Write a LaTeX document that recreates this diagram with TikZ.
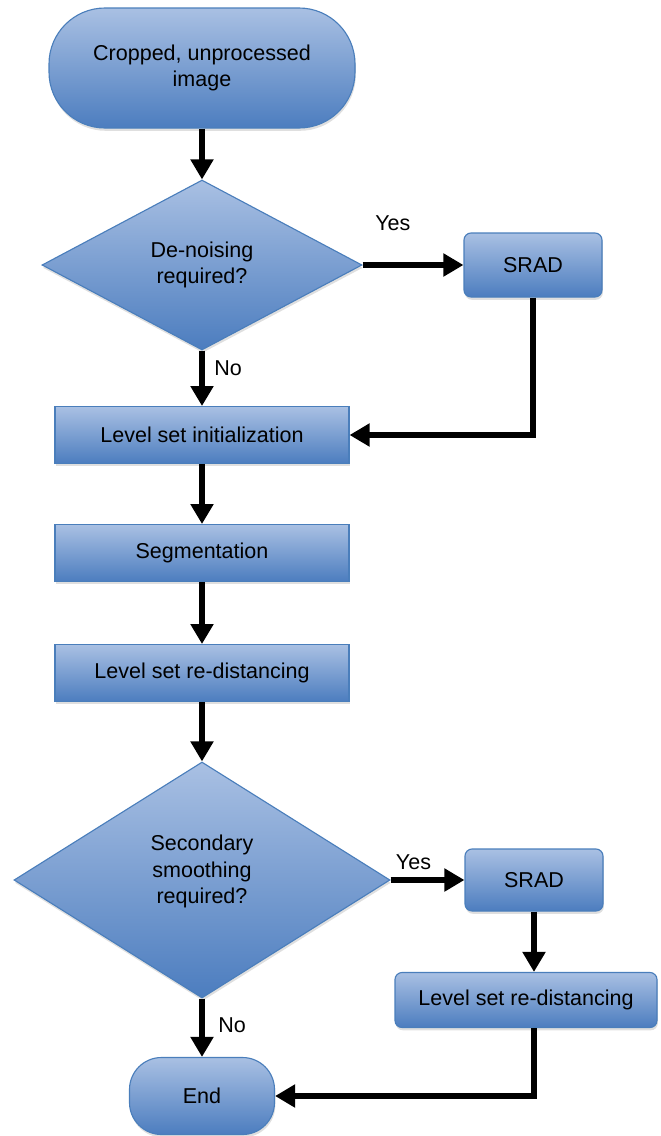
\documentclass[tikz,border=0pt]{standalone}
\usepackage{fontspec}
\setmainfont{Liberation Sans}
\usetikzlibrary{arrows.meta, shapes.geometric, shadows}
\definecolor{cboxtop}{HTML}{A9C0E3}
\definecolor{cboxbot}{HTML}{4C7DBF}
\definecolor{cedge}{HTML}{4A7EBB}
\tikzset{
  every picture/.style={font=\fontsize{15.3}{19}\selectfont},
  box/.style={draw=cedge, line width=0.8pt, top color=cboxtop, bottom color=cboxbot, align=center, inner sep=2pt,
    drop shadow={shadow xshift=0.6pt, shadow yshift=-2pt, opacity=0.25}},
  proc/.style={box, rectangle, minimum width=7.35cm, minimum height=1.42cm},
  side/.style={box, rectangle, rounded corners=5pt},
  terminal/.style={box, rectangle, rounded corners=#1},
  terminal/.default=1.4cm,
  decision/.style={box, diamond, inner sep=0pt},
  arrow/.style={-{Triangle[length=5mm, width=5.5mm]}, draw=black, line width=4.6pt},
  note/.style={font=\fontsize{15.3}{19}\selectfont, inner sep=1pt},
}
\begin{document}
\begin{tikzpicture}
  \useasboundingbox (0,0) rectangle (16.525,-28.4);
  \node[terminal, minimum width=7.65cm, minimum height=3cm] (start) at (5.05,-1.7) {Cropped, unprocessed\\image};
  \node[decision, minimum width=8cm, minimum height=4.25cm] (dec1) at (5.05,-6.625) {De-noising\\required?};
  \node[side, minimum width=3.45cm, minimum height=1.6cm] (srad1) at (13.325,-6.625) {SRAD};
  \node[proc] (init) at (5.05,-10.875) {Level set initialization};
  \node[proc] (seg) at (5.05,-13.825) {Segmentation};
  \node[proc] (redist) at (5.05,-16.825) {Level set re-distancing};
  \node[decision, minimum width=9.4cm, minimum height=5.9cm] (dec2) at (5.05,-22.0) {Secondary\\smoothing\\required?\\[-4pt]};
  \node[side, minimum width=3.45cm, minimum height=1.55cm] (srad2) at (13.35,-22.0) {SRAD};
  \node[side, minimum width=6.55cm, minimum height=1.375cm] (redist2) at (13.15,-25.0) {Level set re-distancing};
  \node[terminal=0.8cm, minimum width=3.625cm, minimum height=1.925cm] (stop) at (5.05,-27.4) {End};

  \draw[arrow] (start) -- (dec1);
  \draw[arrow] (dec1.east) -- node[note, pos=0.3, yshift=1.05cm] (yes1) {Yes} (srad1.west);
  \draw[arrow] (dec1.south) -- node[note, pos=0.32, xshift=0.65cm] (no1) {No} (init.north);
  \draw[arrow] (srad1.south) |- (init.east);
  \draw[arrow] (init) -- (seg);
  \draw[arrow] (seg) -- (redist);
  \draw[arrow] (redist) -- (dec2);
  \draw[arrow] (dec2.east) -- node[note, pos=0.31, yshift=0.45cm] (yes2) {Yes} (srad2.west);
  \draw[arrow] (srad2.south) -- (srad2.south |- redist2.north);
  \draw[arrow] (dec2.south) -- node[note, pos=0.45, xshift=0.75cm] (no2) {No} (stop.north);
  \draw[arrow] (srad2.south |- redist2.south) |- (stop.east);
\end{tikzpicture}
\end{document}
